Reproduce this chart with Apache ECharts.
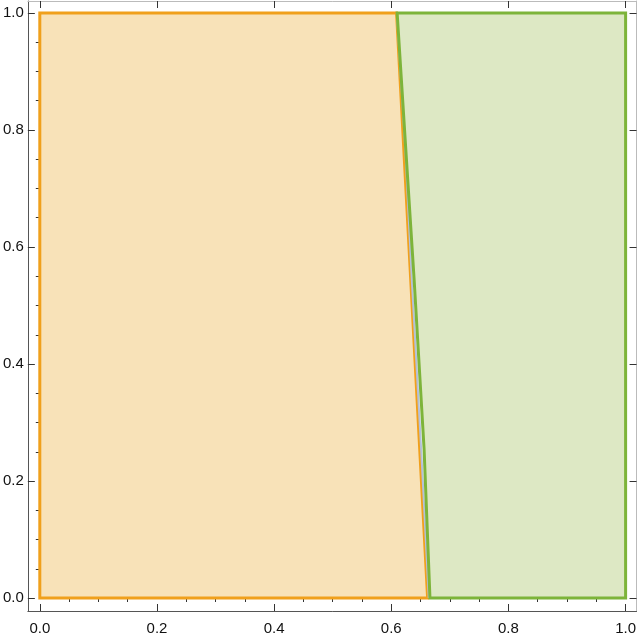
<!DOCTYPE html>
<html>
<head>
<meta charset="utf-8">
<script src="https://cdn.jsdelivr.net/npm/echarts@6/dist/echarts.min.js"></script>
<style>
  html, body { margin: 0; padding: 0; background: #fff; }
  #main { width: 639px; height: 636px; }
</style>
</head>
<body>
<div id="main"></div>
<script>
// region outlines (x, y)
const orangeRegion = [[0, 0], [0, 1], [0.609, 1], [0.662, 0]];
const greenCurve = [[0.610, 1], [0.6248, 0.766], [0.639, 0.544], [0.656, 0.254], [0.666, 0]];
const greenRight = [[1, 0], [1, 1]];
const grayLine = [[0.6095, 1], [0.624, 0.766], [0.635, 0.544], [0.651, 0.254], [0.664, 0]];

const majorTicks = [0, 0.2, 0.4, 0.6, 0.8, 1.0];
const minorTicks = [0.05, 0.1, 0.15, 0.25, 0.3, 0.35, 0.45, 0.5, 0.55, 0.65, 0.7, 0.75, 0.85, 0.9, 0.95];

const xMin = -0.0204, xMax = 1.0187;
const yMin = -0.0222, yMax = 1.0205;

let chart = echarts.init(document.getElementById("main"));

function polygonSeries(points, fill, stroke, z, closed) {
  return {
    type: "custom",
    xAxisIndex: 0,
    yAxisIndex: 0,
    z: z,
    clip: false,
    silent: true,
    data: [0],
    renderItem: function (params, api) {
      const pts = points.map((p) => api.coord(p));
      if (closed) {
        return {
          type: "polygon",
          shape: { points: pts },
          style: { fill: fill, stroke: stroke, lineWidth: 3, lineJoin: "miter" },
        };
      }
      return {
        type: "polyline",
        shape: { points: pts },
        style: { fill: null, stroke: stroke, lineWidth: 2 },
      };
    },
  };
}

function makeAxis(dim, position, opts) {
  const isX = dim === "x";
  return Object.assign(
    {
      type: "value",
      position: position,
      min: isX ? xMin : yMin,
      max: isX ? xMax : yMax,
      splitLine: { show: false },
      axisLine: { show: true, onZero: false, lineStyle: { color: "#555", width: 1 } },
      axisTick: {
        show: true,
        inside: true,
        length: 7,
        customValues: majorTicks,
        lineStyle: { color: "#333", width: 1 },
      },
      axisLabel: { show: false },
    },
    opts || {}
  );
}

// major ticks + labels on bottom/left; top/right frame; minor ticks on every side
const labelStyle = {
  show: true,
  customValues: majorTicks,
  formatter: (v) => v.toFixed(1),
  color: "#111",
  fontFamily: "Liberation Sans",
  fontSize: 15,
};

const minorTick = {
  show: true,
  inside: true,
  length: 4,
  customValues: minorTicks,
  lineStyle: { color: "#333", width: 1 },
};

chart.setOption({
  animation: false,
  backgroundColor: "#fff",
  grid: { left: 26, right: 1, top: 1, bottom: 24, containLabel: false },
  xAxis: [
    makeAxis("x", "bottom", { axisLabel: Object.assign({}, labelStyle, { margin: 10 }) }),
    makeAxis("x", "top", { axisLine: { show: true, onZero: false, lineStyle: { color: "#bbb" } } }),
    makeAxis("x", "bottom", { axisLine: { show: false }, axisTick: minorTick }),
    makeAxis("x", "top", { axisLine: { show: false }, axisTick: minorTick }),
  ],
  yAxis: [
    makeAxis("y", "left", { axisLabel: Object.assign({}, labelStyle, { margin: 4 }) }),
    makeAxis("y", "right", { axisLine: { show: true, onZero: false, lineStyle: { color: "#bbb" } } }),
    makeAxis("y", "left", { axisLine: { show: false }, axisTick: minorTick }),
    makeAxis("y", "right", { axisLine: { show: false }, axisTick: minorTick }),
  ],
  series: [
    polygonSeries(orangeRegion, "#F8E2B8", "#F0A01C", 2, true),
    polygonSeries(grayLine, null, "#B4C0DA", 3, false),
    polygonSeries(greenCurve.concat(greenRight), "#DDE8C4", "#7DB43A", 4, true),
  ],
});
</script>
</body>
</html>
